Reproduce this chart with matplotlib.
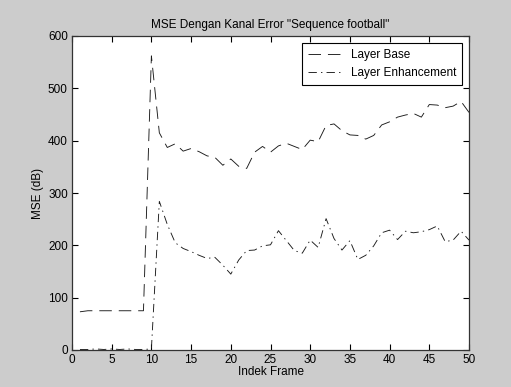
import matplotlib
matplotlib.use("Agg")
import matplotlib.pyplot as plt

plt.rcParams['font.family'] = ['Liberation Sans', 'DejaVu Sans']
plt.rcParams['lines.scale_dashes'] = False

frames = list(range(1, 51))
layer_base = [73, 75, 75, 75, 75, 75, 75, 75, 75, 562,
              415, 387, 394, 380, 385, 379, 371, 368, 353, 365,
              351, 347, 378, 389, 378, 390, 395, 389, 383, 401,
              398, 429, 432, 419, 411, 410, 403, 410, 430, 436,
              445, 449, 452, 445, 469, 468, 463, 466, 475, 454]
layer_enh = [1, 1, 2, 1, 2, 1, 2, 1, 1, 2,
             284, 240, 205, 194, 188, 181, 175, 177, 162, 145,
             172, 190, 191, 199, 201, 228, 209, 190, 185, 210,
             196, 251, 213, 191, 209, 173, 181, 199, 224, 229,
             211, 227, 224, 226, 230, 237, 207, 210, 227, 210]

title = 'MSE Dengan Kanal Error "Sequence football"'
xticks = list(range(0, 51, 5))
yticks = list(range(0, 601, 100))

fs = 8.5
fig = plt.figure(figsize=(5.11, 3.87), dpi=100, facecolor='#cccccc')
ax = fig.add_axes([72/511, 1 - 350/387, (469 - 72)/511, (350 - 36)/387])
ax.set_facecolor('white')

lw = 0.65
ax.plot(frames, layer_base, color='#1a1a1a', linewidth=lw, dashes=(9, 5), label='Layer Base')
ax.plot(frames, layer_enh, color='#1a1a1a', linewidth=lw, dashes=(6, 3, 1, 3), label='Layer Enhancement')

ax.set_xlim(0, 50)
ax.set_ylim(0, 600)
ax.set_xticks(xticks)
ax.set_yticks(yticks)
ax.tick_params(direction='in', top=True, right=True, length=4, width=0.8,
               labelsize=fs, pad=3, colors='black')
for s in ax.spines.values():
  s.set_linewidth(0.9)
  s.set_color('#333333')

ax.set_title(title, fontsize=fs, pad=6)
ax.set_xlabel('Indek Frame', fontsize=fs, labelpad=0)
ax.set_ylabel('MSE (dB)', fontsize=fs, labelpad=3)

leg = ax.legend(loc='upper right', fontsize=fs, fancybox=False, framealpha=1,
                edgecolor='black', handlelength=3.0, handletextpad=0.6,
                borderpad=0.5, labelspacing=0.55, borderaxespad=0.6)
leg.get_frame().set_linewidth(0.8)

fig.savefig('out.png', dpi=100, facecolor=fig.get_facecolor())
